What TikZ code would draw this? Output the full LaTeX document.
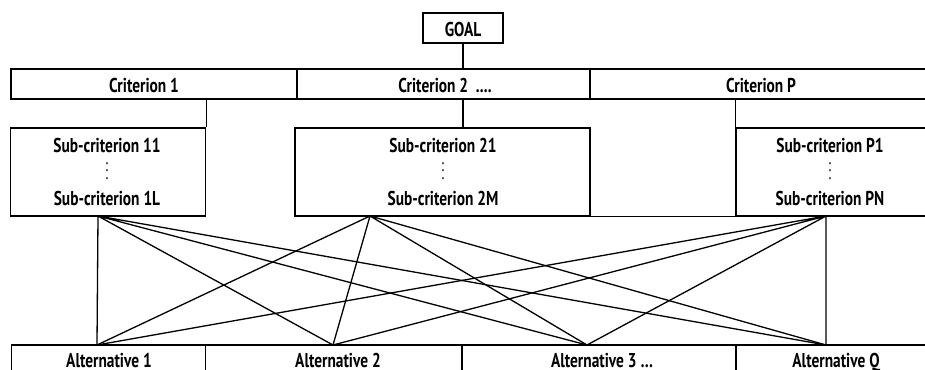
\documentclass[tikz,border=0pt]{standalone}
\usepackage{fontspec}
\setmainfont{PT Sans}[FakeStretch=0.77]
\newcommand\mydots{\vbox{\baselineskip7.5pt\lineskiplimit0pt\hbox{.}\hbox{.}\hbox{.}}}
\begin{document}
\begin{tikzpicture}[x=1pt,y=-1pt,
  txt/.style={font=\bfseries\fontsize{20}{22}\selectfont, inner sep=0pt},
  dotstxt/.style={font=\mdseries\fontsize{18}{20}\selectfont, inner sep=0pt},
  cell/.style={draw, line width=1.5pt, inner sep=0pt},
  conn/.style={line width=1.4pt},
  fan/.style={line width=1.3pt}]
\useasboundingbox (0,0) rectangle (925,369);
\clip (0,0) rectangle (925,369);
% goal
\node[cell, minimum width=80pt, minimum height=30pt] (goal) at (463,28) {};
\node[txt, anchor=base] (goalt) at (463,37) {GOAL};
% criteria row
\node[cell, minimum width=286pt, minimum height=30pt] (c1) at (154,84) {};
\node[cell, minimum width=293pt, minimum height=30pt] (c2) at (443.5,84) {};
\node[cell, minimum width=340pt, minimum height=30pt] (c3) at (760,84) {};
\node[txt, anchor=base] (c1t) at (144,92.5) {Criterion 1};
\node[txt, anchor=base] (c2t) at (445,92.5) {Criterion 2 \ ....};
\node[txt, anchor=base] (c3t) at (761,92.5) {Criterion P};
% sub-criteria boxes
\node[cell, minimum width=195pt, minimum height=88pt] (s1) at (108,172) {};
\node[cell, minimum width=295pt, minimum height=88pt] (s2) at (442.5,172) {};
\node[cell, minimum width=194pt, minimum height=88pt] (s3) at (833,172) {};
\node[txt, anchor=base] (s1a) at (107,152) {Sub-criterion 11};
\node[dotstxt] (s1d) at (107,171) {\mydots};
\node[txt, anchor=base] (s1b) at (107,205) {Sub-criterion 1L};
\node[txt, anchor=base] (s2a) at (443,152) {Sub-criterion 21};
\node[dotstxt] (s2d) at (443,171) {\mydots};
\node[txt, anchor=base] (s2b) at (443,205) {Sub-criterion 2M};
\node[txt, anchor=base] (s3a) at (830,152) {Sub-criterion P1};
\node[dotstxt] (s3d) at (830,171) {\mydots};
\node[txt, anchor=base] (s3b) at (830,205) {Sub-criterion PN};
% alternatives row
\node[cell, minimum width=194pt, minimum height=30pt] (a1) at (108.5,360) {};
\node[cell, minimum width=257pt, minimum height=30pt] (a2) at (334,360) {};
\node[cell, minimum width=274pt, minimum height=30pt] (a3) at (599,360) {};
\node[cell, minimum width=194pt, minimum height=30pt] (a4) at (833,360) {};
\node[txt, anchor=base] (a1t) at (109,367.5) {Alternative 1};
\node[txt, anchor=base] (a2t) at (338,367.5) {Alternative 2};
\node[txt, anchor=base] (a3t) at (602,367.5) {Alternative 3 \ldots};
\node[txt, anchor=base] (a4t) at (836,367.5) {Alternative Q};
% tree connectors
\draw[conn] (goal.south) -- (goal.south |- c2.north);
\draw[conn] (s1.north east) -- (s1.north east |- c1.south);
\draw[conn] (goal.south |- c2.south) -- (goal.south |- s2.north);
\draw[conn] (s3.north west) -- (s3.north west |- c3.south);
\draw[conn] (s2.south east) -- (s3.south west);
% fan points
\coordinate (p1) at (98,216);
\coordinate (p2) at (370,216);
\coordinate (p3) at (826,216);
\coordinate (q1) at (97,345);
\coordinate (q2) at (333,345);
\coordinate (q3) at (587,345);
\coordinate (q4) at (826,345);
\draw[fan] (p1) -- (q1) (p1) -- (q2) (p1) -- (q3) (p1) -- (q4);
\draw[fan] (p2) -- (q1) (p2) -- (q2) (p2) -- (q3) (p2) -- (q4);
\draw[fan] (p3) -- (q1) (p3) -- (q2) (p3) -- (q3) (p3) -- (q4);
\end{tikzpicture}
\end{document}
